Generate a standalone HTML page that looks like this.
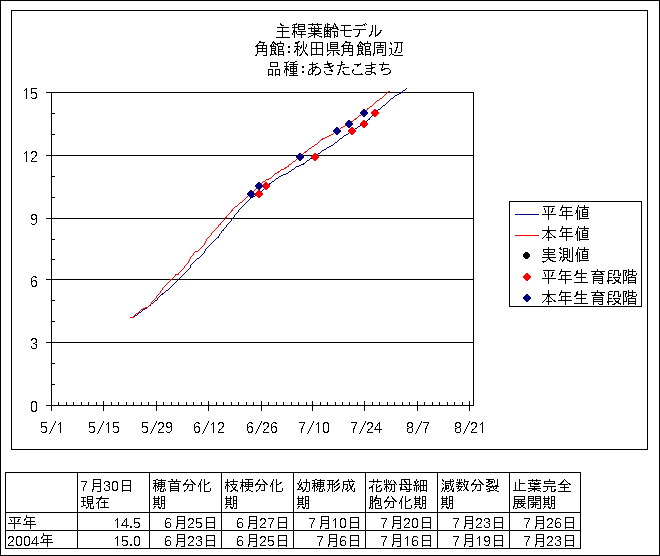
<!DOCTYPE html>
<html lang="ja"><head><meta charset="utf-8"><title>主稈葉齢モデル</title>
<style>html,body{margin:0;padding:0;background:#fff;font-family:"Liberation Sans",sans-serif}svg{display:block}</style>
</head><body>
<svg width="660" height="556" viewBox="0 0 660 556" shape-rendering="crispEdges">
<title>主稈葉齢モデル 角館:秋田県角館周辺 品種:あきたこまち</title>
<desc>凡例: 平年値, 本年値, 実測値, 平年生育段階, 本年生育段階. 軸: 0 3 6 9 12 15 / 5/1 5/15 5/29 6/12 6/26 7/10 7/24 8/7 8/21. 表: 7月30日現在 平年 14.5 2004年 15.0; 穂首分化期 6月25日 6月23日; 枝梗分化期 6月27日 6月25日; 幼穂形成期 7月10日 7月6日; 花粉母細胞分化期 7月20日 7月16日; 減数分裂期 7月23日 7月19日; 止葉完全展開期 7月26日 7月23日</desc>
<rect width="660" height="556" fill="#fff"/>
<g fill="none" stroke="#000" stroke-width="1">
<rect x="0.5" y="0.5" width="659" height="555"/>
<rect x="11.5" y="10.5" width="636" height="439"/>
<path d="M46 92.5H474"/>
<path d="M46 155.5H474"/>
<path d="M46 218.5H474"/>
<path d="M46 279.5H474"/>
<path d="M46 342.5H474"/>
<path d="M46 405.5H474"/>
<path d="M51.5 92V411"/>
<path d="M473.5 92V406"/>
<path d="M52 113.5H55"/>
<path d="M52 134.5H55"/>
<path d="M52 176.5H55"/>
<path d="M52 197.5H55"/>
<path d="M52 239.5H55"/>
<path d="M52 259.5H55"/>
<path d="M52 300.5H55"/>
<path d="M52 321.5H55"/>
<path d="M52 363.5H55"/>
<path d="M52 384.5H55"/>
<path d="M58.5 402V405"/>
<path d="M66.5 402V405"/>
<path d="M73.5 402V405"/>
<path d="M81.5 402V405"/>
<path d="M88.5 402V405"/>
<path d="M96.5 402V405"/>
<path d="M103.5 401V411"/>
<path d="M111.5 402V405"/>
<path d="M118.5 402V405"/>
<path d="M126.5 402V405"/>
<path d="M133.5 402V405"/>
<path d="M141.5 402V405"/>
<path d="M148.5 402V405"/>
<path d="M156.5 401V411"/>
<path d="M163.5 402V405"/>
<path d="M171.5 402V405"/>
<path d="M178.5 402V405"/>
<path d="M186.5 402V405"/>
<path d="M193.5 402V405"/>
<path d="M201.5 402V405"/>
<path d="M208.5 401V411"/>
<path d="M216.5 402V405"/>
<path d="M223.5 402V405"/>
<path d="M231.5 402V405"/>
<path d="M238.5 402V405"/>
<path d="M246.5 402V405"/>
<path d="M253.5 402V405"/>
<path d="M261.5 401V411"/>
<path d="M268.5 402V405"/>
<path d="M276.5 402V405"/>
<path d="M283.5 402V405"/>
<path d="M291.5 402V405"/>
<path d="M298.5 402V405"/>
<path d="M306.5 402V405"/>
<path d="M312.5 401V411"/>
<path d="M320.5 402V405"/>
<path d="M327.5 402V405"/>
<path d="M335.5 402V405"/>
<path d="M342.5 402V405"/>
<path d="M349.5 402V405"/>
<path d="M357.5 402V405"/>
<path d="M364.5 401V411"/>
<path d="M372.5 402V405"/>
<path d="M379.5 402V405"/>
<path d="M387.5 402V405"/>
<path d="M394.5 402V405"/>
<path d="M402.5 402V405"/>
<path d="M409.5 402V405"/>
<path d="M417.5 401V411"/>
<path d="M424.5 402V405"/>
<path d="M432.5 402V405"/>
<path d="M439.5 402V405"/>
<path d="M447.5 402V405"/>
<path d="M454.5 402V405"/>
<path d="M462.5 402V405"/>
<path d="M469.5 401V411"/>
</g>
<path fill="#000080" d="M406 88h1v1h-1zM405 89h1v1h-1zM403 90h2v1h-2zM402 91h1v1h-1zM400 92h2v1h-2zM399 93h2v1h-2zM397 94h2v1h-2zM395 95h2v1h-2zM394 96h1v1h-1zM393 97h1v1h-1zM391 98h2v1h-2zM390 99h1v1h-1zM389 100h1v1h-1zM388 101h1v1h-1zM387 102h1v1h-1zM386 103h1v1h-1zM385 104h1v1h-1zM383 105h2v1h-2zM382 106h1v1h-1zM381 107h1v1h-1zM380 108h1v1h-1zM378 109h2v1h-2zM377 110h1v1h-1zM376 111h1v1h-1zM375 112h1v1h-1zM374 113h1v1h-1zM373 114h1v1h-1zM372 115h1v1h-1zM371 116h1v1h-1zM370 117h1v1h-1zM369 118h1v1h-1zM368 119h2v1h-2zM367 120h1v1h-1zM366 121h1v1h-1zM365 122h1v1h-1zM364 123h1v1h-1zM362 124h2v1h-2zM360 125h2v1h-2zM358 126h2v1h-2zM357 127h1v1h-1zM355 128h2v1h-2zM354 129h1v1h-1zM352 130h2v1h-2zM351 131h2v1h-2zM349 132h2v1h-2zM348 133h1v1h-1zM346 134h2v1h-2zM344 135h2v1h-2zM343 136h1v1h-1zM342 137h1v1h-1zM340 138h2v1h-2zM339 139h1v1h-1zM338 140h1v1h-1zM337 141h1v1h-1zM335 142h2v1h-2zM334 143h1v1h-1zM333 144h1v1h-1zM331 145h2v1h-2zM329 146h2v1h-2zM327 147h2v1h-2zM326 148h1v1h-1zM324 149h2v1h-2zM322 150h2v1h-2zM321 151h1v1h-1zM320 152h1v1h-1zM318 153h2v1h-2zM317 154h1v1h-1zM316 155h1v1h-1zM315 156h1v1h-1zM313 157h2v1h-2zM310 158h3v1h-3zM309 159h1v1h-1zM307 160h2v1h-2zM306 161h1v1h-1zM305 162h1v1h-1zM303 163h2v1h-2zM301 164h3v1h-3zM299 165h2v1h-2zM296 166h3v1h-3zM295 167h1v1h-1zM294 168h1v1h-1zM292 169h2v1h-2zM291 170h1v1h-1zM289 171h2v1h-2zM288 172h1v1h-1zM286 173h2v1h-2zM283 174h3v1h-3zM281 175h2v1h-2zM279 176h2v1h-2zM278 177h1v1h-1zM276 178h2v1h-2zM275 179h1v1h-1zM274 180h1v1h-1zM272 181h2v1h-2zM271 182h1v1h-1zM269 183h2v1h-2zM268 184h2v1h-2zM267 185h1v1h-1zM266 186h1v1h-1zM265 187h1v1h-1zM264 188h1v1h-1zM263 189h1v1h-1zM262 190h1v1h-1zM261 191h1v1h-1zM260 192h1v1h-1zM259 193h1v1h-1zM257 194h3v1h-3zM255 195h2v1h-2zM253 196h2v1h-2zM251 197h2v1h-2zM250 198h1v1h-1zM249 199h1v1h-1zM248 200h1v1h-1zM247 201h1v1h-1zM246 202h1v1h-1zM245 203h1v1h-1zM244 204h1v1h-1zM243 205h1v1h-1zM242 206h1v1h-1zM241 207h1v1h-1zM240 208h1v1h-1zM239 209h1v1h-1zM238 210h1v2h-1zM237 212h1v1h-1zM236 213h1v1h-1zM235 214h1v1h-1zM234 215h1v2h-1zM233 217h1v1h-1zM232 218h1v1h-1zM231 219h1v2h-1zM230 221h1v1h-1zM229 222h1v1h-1zM228 223h1v1h-1zM227 224h1v1h-1zM226 225h1v2h-1zM225 227h1v1h-1zM224 228h1v1h-1zM223 229h1v1h-1zM222 230h2v1h-2zM221 231h1v2h-1zM220 233h1v1h-1zM219 234h1v2h-1zM218 236h1v1h-1zM217 237h2v1h-2zM216 238h1v1h-1zM215 239h1v1h-1zM214 240h1v1h-1zM213 241h1v1h-1zM212 242h1v1h-1zM211 243h1v1h-1zM210 244h1v1h-1zM209 245h1v1h-1zM208 246h1v1h-1zM207 247h1v1h-1zM206 248h1v1h-1zM205 249h1v2h-1zM204 251h1v2h-1zM203 253h1v1h-1zM202 254h1v1h-1zM201 255h1v1h-1zM200 256h1v1h-1zM199 257h1v1h-1zM197 258h2v1h-2zM196 259h1v1h-1zM195 260h1v1h-1zM194 261h1v1h-1zM193 262h1v1h-1zM192 263h1v1h-1zM191 264h1v1h-1zM190 265h1v3h-1zM189 268h1v1h-1zM188 269h1v1h-1zM187 270h1v1h-1zM186 271h1v1h-1zM185 272h1v1h-1zM184 273h1v1h-1zM183 274h1v1h-1zM182 275h1v1h-1zM181 276h1v1h-1zM180 277h1v1h-1zM179 278h1v1h-1zM178 279h1v1h-1zM177 280h1v1h-1zM176 281h1v1h-1zM175 282h1v1h-1zM174 283h1v1h-1zM173 284h1v1h-1zM172 285h1v1h-1zM171 286h1v1h-1zM170 287h1v1h-1zM169 288h1v1h-1zM168 289h1v1h-1zM166 290h2v1h-2zM165 291h1v1h-1zM164 292h1v1h-1zM162 293h2v1h-2zM161 294h2v1h-2zM160 295h1v1h-1zM159 296h1v1h-1zM158 297h1v1h-1zM157 298h1v2h-1zM155 300h2v1h-2zM154 301h1v1h-1zM153 302h1v1h-1zM151 303h2v1h-2zM150 304h1v1h-1zM149 305h2v1h-2zM148 306h1v1h-1zM147 307h1v1h-1zM145 308h2v1h-2zM143 309h2v1h-2zM142 310h1v1h-1zM141 311h1v1h-1zM139 312h2v1h-2zM138 313h1v1h-1zM137 314h1v1h-1zM135 315h2v1h-2zM133 316h2v1h-2zM132 317h1v1h-1z"/>
<path fill="#ff0000" d="M388 91h2v1h-2zM387 92h1v1h-1zM386 93h1v1h-1zM385 94h1v1h-1zM384 95h1v1h-1zM383 96h1v1h-1zM382 97h1v1h-1zM380 98h2v1h-2zM379 99h1v1h-1zM377 100h2v1h-2zM376 101h1v1h-1zM375 102h1v1h-1zM374 103h1v1h-1zM373 104h1v1h-1zM372 105h1v1h-1zM370 106h2v1h-2zM369 107h1v1h-1zM367 108h2v1h-2zM367 109h1v1h-1zM366 110h1v1h-1zM365 111h1v1h-1zM364 112h1v1h-1zM362 113h2v1h-2zM361 114h1v1h-1zM359 115h2v1h-2zM358 116h1v1h-1zM357 117h1v1h-1zM355 118h2v1h-2zM354 119h2v1h-2zM353 120h1v1h-1zM351 121h2v1h-2zM350 122h1v1h-1zM348 123h2v1h-2zM347 124h2v1h-2zM345 125h2v1h-2zM343 126h2v1h-2zM341 127h2v1h-2zM340 128h1v1h-1zM338 129h2v1h-2zM337 130h1v1h-1zM335 131h2v1h-2zM334 132h1v1h-1zM333 133h1v1h-1zM331 134h2v1h-2zM329 135h2v1h-2zM327 136h2v1h-2zM325 137h2v1h-2zM322 138h3v1h-3zM321 139h2v1h-2zM320 140h1v1h-1zM319 141h1v1h-1zM318 142h1v1h-1zM317 143h1v1h-1zM315 144h2v1h-2zM314 145h1v1h-1zM312 146h2v1h-2zM311 147h1v1h-1zM309 148h2v1h-2zM308 149h1v1h-1zM307 150h1v1h-1zM305 151h2v1h-2zM304 152h2v1h-2zM303 153h1v1h-1zM302 154h1v1h-1zM301 155h1v1h-1zM299 156h2v1h-2zM298 157h2v1h-2zM297 158h1v1h-1zM296 159h1v1h-1zM295 160h1v1h-1zM293 161h2v1h-2zM292 162h1v1h-1zM291 163h1v1h-1zM289 164h2v1h-2zM288 165h1v1h-1zM287 166h2v1h-2zM285 167h2v1h-2zM284 168h2v1h-2zM281 169h3v1h-3zM280 170h1v1h-1zM278 171h2v1h-2zM277 172h2v1h-2zM275 173h2v1h-2zM274 174h1v1h-1zM273 175h1v1h-1zM272 176h1v1h-1zM271 177h1v1h-1zM269 178h2v1h-2zM266 179h3v1h-3zM265 180h1v1h-1zM263 181h2v1h-2zM262 182h1v1h-1zM261 183h1v1h-1zM260 184h1v1h-1zM259 185h1v1h-1zM258 186h1v1h-1zM257 187h1v1h-1zM256 188h1v1h-1zM255 189h1v1h-1zM254 190h1v1h-1zM253 191h1v1h-1zM252 192h1v1h-1zM251 193h1v1h-1zM250 194h2v1h-2zM248 195h2v1h-2zM247 196h1v1h-1zM246 197h1v1h-1zM245 198h1v1h-1zM244 199h1v1h-1zM243 200h1v1h-1zM242 201h1v1h-1zM240 202h2v1h-2zM239 203h1v1h-1zM238 204h1v1h-1zM237 205h1v1h-1zM235 206h2v1h-2zM234 207h1v1h-1zM233 208h1v1h-1zM232 209h1v1h-1zM231 210h2v1h-2zM231 211h1v1h-1zM230 212h1v1h-1zM229 213h1v1h-1zM228 214h1v1h-1zM227 215h1v1h-1zM226 216h1v1h-1zM225 217h2v1h-2zM225 218h1v1h-1zM224 219h1v1h-1zM223 220h1v1h-1zM222 221h1v1h-1zM221 222h1v1h-1zM220 223h1v1h-1zM219 224h2v1h-2zM218 225h1v2h-1zM217 227h1v1h-1zM216 228h1v1h-1zM215 229h1v1h-1zM214 230h1v1h-1zM213 231h1v1h-1zM212 232h1v1h-1zM211 233h1v2h-1zM210 235h1v1h-1zM209 236h1v1h-1zM208 237h1v1h-1zM207 238h1v1h-1zM206 239h1v2h-1zM205 241h1v2h-1zM204 243h1v2h-1zM203 245h1v1h-1zM202 246h1v1h-1zM201 247h1v1h-1zM200 248h1v1h-1zM199 249h1v1h-1zM198 250h1v1h-1zM195 251h3v1h-3zM194 252h1v1h-1zM193 253h1v2h-1zM192 255h1v1h-1zM191 256h1v1h-1zM190 257h1v2h-1zM189 259h1v2h-1zM188 261h1v2h-1zM187 263h1v1h-1zM186 264h1v1h-1zM185 265h1v1h-1zM184 266h1v2h-1zM183 268h1v1h-1zM182 269h1v1h-1zM181 270h1v1h-1zM180 271h1v1h-1zM179 272h1v1h-1zM178 273h1v1h-1zM175 274h4v1h-4zM175 275h1v1h-1zM174 276h1v1h-1zM173 277h1v1h-1zM172 278h1v1h-1zM170 279h2v1h-2zM170 280h1v1h-1zM169 281h1v1h-1zM168 282h1v1h-1zM167 283h1v1h-1zM166 284h1v1h-1zM165 285h1v1h-1zM164 286h1v1h-1zM163 287h1v1h-1zM162 288h1v2h-1zM161 290h1v1h-1zM160 291h1v2h-1zM159 293h1v1h-1zM158 294h1v1h-1zM157 295h1v1h-1zM156 296h1v2h-1zM155 298h1v1h-1zM154 299h1v1h-1zM153 300h1v1h-1zM152 301h1v1h-1zM151 302h1v2h-1zM150 304h1v1h-1zM149 305h1v1h-1zM148 306h1v1h-1zM145 307h3v1h-3zM143 308h2v1h-2zM141 309h2v1h-2zM140 310h1v1h-1zM139 311h1v1h-1zM138 312h1v1h-1zM136 313h2v1h-2zM135 314h1v1h-1zM134 315h1v1h-1zM133 316h1v1h-1zM130 317h4v1h-4z"/>
<path fill="#ff0000" d="M258 190h2v1h-2zM257 191h4v1h-4zM256 192h6v1h-6zM255 193h8v1h-8zM255 194h8v1h-8zM256 195h6v1h-6zM257 196h4v1h-4zM258 197h2v1h-2z"/>
<path fill="#ff0000" d="M265 182h2v1h-2zM264 183h4v1h-4zM263 184h6v1h-6zM262 185h8v1h-8zM262 186h8v1h-8zM263 187h6v1h-6zM264 188h4v1h-4zM265 189h2v1h-2z"/>
<path fill="#ff0000" d="M314 153h2v1h-2zM313 154h4v1h-4zM312 155h6v1h-6zM311 156h8v1h-8zM311 157h8v1h-8zM312 158h6v1h-6zM313 159h4v1h-4zM314 160h2v1h-2z"/>
<path fill="#ff0000" d="M351 127h2v1h-2zM350 128h4v1h-4zM349 129h6v1h-6zM348 130h8v1h-8zM348 131h8v1h-8zM349 132h6v1h-6zM350 133h4v1h-4zM351 134h2v1h-2z"/>
<path fill="#ff0000" d="M363 120h2v1h-2zM362 121h4v1h-4zM361 122h6v1h-6zM360 123h8v1h-8zM360 124h8v1h-8zM361 125h6v1h-6zM362 126h4v1h-4zM363 127h2v1h-2z"/>
<path fill="#ff0000" d="M374 109h2v1h-2zM373 110h4v1h-4zM372 111h6v1h-6zM371 112h8v1h-8zM371 113h8v1h-8zM372 114h6v1h-6zM373 115h4v1h-4zM374 116h2v1h-2z"/>
<path fill="#000080" d="M250 190h2v1h-2zM249 191h4v1h-4zM248 192h6v1h-6zM247 193h8v1h-8zM247 194h8v1h-8zM248 195h6v1h-6zM249 196h4v1h-4zM250 197h2v1h-2z"/>
<path fill="#000080" d="M258 182h2v1h-2zM257 183h4v1h-4zM256 184h6v1h-6zM255 185h8v1h-8zM255 186h8v1h-8zM256 187h6v1h-6zM257 188h4v1h-4zM258 189h2v1h-2z"/>
<path fill="#000080" d="M299 153h2v1h-2zM298 154h4v1h-4zM297 155h6v1h-6zM296 156h8v1h-8zM296 157h8v1h-8zM297 158h6v1h-6zM298 159h4v1h-4zM299 160h2v1h-2z"/>
<path fill="#000080" d="M336 127h2v1h-2zM335 128h4v1h-4zM334 129h6v1h-6zM333 130h8v1h-8zM333 131h8v1h-8zM334 132h6v1h-6zM335 133h4v1h-4zM336 134h2v1h-2z"/>
<path fill="#000080" d="M348 120h2v1h-2zM347 121h4v1h-4zM346 122h6v1h-6zM345 123h8v1h-8zM345 124h8v1h-8zM346 125h6v1h-6zM347 126h4v1h-4zM348 127h2v1h-2z"/>
<path fill="#000080" d="M363 109h2v1h-2zM362 110h4v1h-4zM361 111h6v1h-6zM360 112h8v1h-8zM360 113h8v1h-8zM361 114h6v1h-6zM362 115h4v1h-4zM363 116h2v1h-2z"/>
<rect x="509.5" y="201.5" width="132" height="105" fill="#fff" stroke="#000"/>
<path d="M515 214.5H539" stroke="#000080"/>
<path d="M515 235.5H539" stroke="#ff0000"/>
<path fill="#000" d="M525 252h3v1h-3zM524 253h5v1h-5zM523 254h7v1h-7zM523 255h7v1h-7zM523 256h7v1h-7zM524 257h5v1h-5zM525 258h3v1h-3z"/>
<path fill="#ff0000" d="M526 273h2v1h-2zM525 274h4v1h-4zM524 275h6v1h-6zM523 276h8v1h-8zM523 277h8v1h-8zM524 278h6v1h-6zM525 279h4v1h-4zM526 280h2v1h-2z"/>
<path fill="#000080" d="M526 294h2v1h-2zM525 295h4v1h-4zM524 296h6v1h-6zM523 297h8v1h-8zM523 298h8v1h-8zM524 299h6v1h-6zM525 300h4v1h-4zM526 301h2v1h-2z"/>
<g fill="none" stroke="#000" stroke-width="1">
<rect x="5.5" y="472.5" width="575" height="76"/>
<path d="M77.5 472V549"/>
<path d="M149.5 472V549"/>
<path d="M221.5 472V549"/>
<path d="M293.5 472V549"/>
<path d="M365.5 472V549"/>
<path d="M437.5 472V549"/>
<path d="M509.5 472V549"/>
<path d="M5 512.5H581"/>
<path d="M5 530.5H581"/>
</g>
<path fill="#000" d="M334 23h1v1h-1zM317 23h1v1h-1zM327 23h1v1h-1zM365 23h1v1h-1zM312 23h1v1h-1zM296 23h1v1h-1zM280 23h1v1h-1zM293 24h4v1h-4zM308 24h14v1h-14zM298 24h7v1h-7zM366 24h1v1h-1zM280 24h2v1h-2zM334 24h2v1h-2zM363 24h2v1h-2zM327 24h3v1h-3zM292 25h1v1h-1zM335 25h1v1h-1zM341 25h10v1h-10zM317 25h1v1h-1zM355 25h8v1h-8zM298 25h1v1h-1zM304 25h1v1h-1zM312 25h1v1h-1zM364 25h1v1h-1zM281 25h3v1h-3zM325 24h1v3h-1zM333 25h1v2h-1zM327 25h1v2h-1zM294 25h1v2h-1zM298 26h7v1h-7zM335 26h2v1h-2zM314 26h1v2h-1zM318 26h1v2h-1zM336 27h2v1h-2zM292 27h7v1h-7zM324 27h10v1h-10zM311 27h1v1h-1zM277 27h12v1h-12zM304 27h1v2h-1zM308 28h14v1h-14zM324 28h1v1h-1zM332 28h6v1h-6zM330 28h1v1h-1zM298 28h1v1h-1zM344 26h1v4h-1zM327 28h1v2h-1zM294 28h1v2h-1zM329 29h3v1h-3zM337 29h2v1h-2zM314 29h1v1h-1zM298 29h7v1h-7zM353 29h13v1h-13zM324 29h2v1h-2zM318 29h1v1h-1zM372 25h1v6h-1zM282 28h1v3h-1zM311 29h1v2h-1zM314 30h5v1h-5zM324 30h1v1h-1zM330 30h1v1h-1zM293 30h2v1h-2zM380 30h2v1h-2zM326 30h3v1h-3zM340 30h12v1h-12zM293 31h4v1h-4zM298 31h8v1h-8zM324 31h7v1h-7zM332 31h6v1h-6zM277 31h12v1h-12zM311 31h10v1h-10zM380 31h1v1h-1zM371 31h2v1h-2zM359 30h1v3h-1zM314 32h1v1h-1zM327 32h1v1h-1zM293 32h2v1h-2zM379 32h2v1h-2zM324 32h1v2h-1zM330 32h1v2h-1zM301 32h1v2h-1zM371 32h1v2h-1zM296 32h1v2h-1zM308 33h14v1h-14zM378 33h2v1h-2zM358 33h2v1h-2zM326 33h3v1h-3zM375 25h1v10h-1zM334 32h1v3h-1zM292 33h1v2h-1zM297 34h9v1h-9zM329 34h2v1h-2zM377 34h2v1h-2zM313 34h4v1h-4zM358 34h1v1h-1zM370 34h2v1h-2zM324 34h2v1h-2zM344 31h1v5h-1zM337 32h1v4h-1zM327 34h1v2h-1zM311 35h2v1h-2zM324 35h1v1h-1zM330 35h1v1h-1zM357 35h2v1h-2zM334 35h2v1h-2zM375 35h3v1h-3zM317 35h2v1h-2zM369 35h2v1h-2zM282 32h1v5h-1zM345 36h6v1h-6zM319 36h3v1h-3zM336 36h2v1h-2zM324 36h7v1h-7zM369 36h1v1h-1zM375 36h1v1h-1zM309 36h2v1h-2zM355 36h3v1h-3zM294 33h1v5h-1zM314 35h1v3h-1zM301 35h1v3h-1zM334 36h1v2h-1zM324 37h1v1h-1zM276 37h14v1h-14zM308 37h1v1h-1zM321 37h1v1h-1zM330 37h1v1h-1zM360 41h1v1h-1zM259 41h2v1h-2zM345 41h2v1h-2zM273 41h1v1h-1zM298 41h2v1h-2zM367 41h1v2h-1zM280 41h1v2h-1zM345 42h6v1h-6zM330 42h8v1h-8zM295 42h4v1h-4zM311 42h12v1h-12zM394 42h9v1h-9zM259 42h6v1h-6zM374 42h12v1h-12zM359 42h3v1h-3zM272 42h3v1h-3zM390 42h1v1h-1zM390 43h2v1h-2zM295 43h3v1h-3zM344 43h1v1h-1zM330 43h1v1h-1zM361 43h2v1h-2zM258 43h1v1h-1zM364 43h7v1h-7zM359 43h1v1h-1zM277 43h7v1h-7zM272 43h1v1h-1zM337 43h1v1h-1zM274 43h2v1h-2zM380 43h1v2h-1zM349 43h1v2h-1zM263 43h1v2h-1zM330 44h8v1h-8zM343 44h1v1h-1zM257 44h1v1h-1zM358 44h1v1h-1zM271 44h1v1h-1zM391 44h1v1h-1zM362 44h3v1h-3zM275 44h3v1h-3zM370 44h1v2h-1zM283 44h1v2h-1zM297 44h1v2h-1zM360 44h1v2h-1zM273 44h1v2h-1zM330 45h1v1h-1zM377 45h7v1h-7zM342 45h11v1h-11zM364 45h1v1h-1zM277 45h1v1h-1zM337 45h1v1h-1zM256 45h11v1h-11zM357 45h2v1h-2zM270 45h2v1h-2zM397 43h1v4h-1zM306 44h1v3h-1zM301 45h1v2h-1zM330 46h8v1h-8zM341 46h3v1h-3zM380 46h1v1h-1zM255 46h3v1h-3zM357 46h6v1h-6zM365 46h5v1h-5zM270 46h6v1h-6zM278 46h5v1h-5zM294 46h6v1h-6zM311 43h1v5h-1zM316 43h1v5h-1zM322 43h1v5h-1zM352 46h1v2h-1zM348 46h1v2h-1zM266 46h1v2h-1zM262 46h1v2h-1zM288 46h2v2h-2zM297 47h1v1h-1zM376 47h8v1h-8zM343 47h1v1h-1zM257 47h1v1h-1zM330 47h1v1h-1zM362 47h1v1h-1zM275 47h1v1h-1zM396 47h2v1h-2zM358 47h1v1h-1zM271 47h1v1h-1zM300 47h2v1h-2zM337 47h1v1h-1zM369 47h1v2h-1zM282 47h1v2h-1zM365 47h1v2h-1zM278 47h1v2h-1zM305 47h1v2h-1zM330 48h8v1h-8zM358 48h5v1h-5zM271 48h5v1h-5zM343 48h10v1h-10zM257 48h10v1h-10zM311 48h12v1h-12zM389 48h3v1h-3zM296 48h2v1h-2zM300 48h1v1h-1zM303 41h1v9h-1zM327 43h1v7h-1zM396 48h1v2h-1zM296 49h3v1h-3zM362 49h1v1h-1zM275 49h1v1h-1zM358 49h1v1h-1zM271 49h1v1h-1zM365 49h5v1h-5zM278 49h5v1h-5zM377 49h6v1h-6zM352 49h1v2h-1zM348 49h1v2h-1zM343 49h1v2h-1zM266 49h1v2h-1zM257 49h1v2h-1zM262 49h1v2h-1zM303 50h2v1h-2zM358 50h5v1h-5zM271 50h5v1h-5zM395 50h2v1h-2zM299 50h1v1h-1zM327 50h13v1h-13zM295 50h1v1h-1zM365 50h1v1h-1zM278 50h1v1h-1zM401 43h1v9h-1zM377 50h1v2h-1zM382 50h1v2h-1zM361 51h1v1h-1zM294 51h2v1h-2zM274 51h1v1h-1zM365 51h6v1h-6zM278 51h6v1h-6zM343 51h10v1h-10zM257 51h10v1h-10zM395 51h1v1h-1zM327 51h1v1h-1zM304 51h1v1h-1zM374 43h1v10h-1zM302 51h1v2h-1zM288 51h2v2h-2zM336 52h2v1h-2zM330 52h1v1h-1zM294 52h1v1h-1zM398 52h3v1h-3zM394 52h2v1h-2zM377 52h6v1h-6zM305 52h1v1h-1zM311 49h1v5h-1zM316 49h1v5h-1zM391 49h1v5h-1zM322 49h1v5h-1zM358 51h1v3h-1zM271 51h1v3h-1zM370 52h1v2h-1zM283 52h1v2h-1zM343 52h1v2h-1zM257 52h1v2h-1zM361 52h2v2h-2zM274 52h2v2h-2zM365 52h1v2h-1zM278 52h1v2h-1zM301 53h1v1h-1zM329 53h1v1h-1zM373 53h2v1h-2zM377 53h1v1h-1zM337 53h2v1h-2zM305 53h2v1h-2zM385 43h1v12h-1zM352 52h1v3h-1zM266 52h1v3h-1zM275 54h2v1h-2zM256 54h1v1h-1zM357 54h4v1h-4zM270 54h4v1h-4zM365 54h6v1h-6zM278 54h6v1h-6zM327 54h2v1h-2zM390 54h1v1h-1zM392 54h2v1h-2zM311 54h12v1h-12zM300 54h2v1h-2zM306 54h2v1h-2zM338 54h2v1h-2zM342 54h1v1h-1zM362 54h2v1h-2zM297 50h1v6h-1zM333 51h1v5h-1zM373 54h1v2h-1zM370 55h1v1h-1zM283 55h1v1h-1zM311 55h1v1h-1zM299 55h2v1h-2zM389 55h1v1h-1zM357 55h1v1h-1zM270 55h1v1h-1zM307 55h1v1h-1zM341 55h2v1h-2zM349 55h4v1h-4zM394 55h9v1h-9zM327 55h1v1h-1zM382 55h4v1h-4zM322 55h1v1h-1zM255 55h2v1h-2zM263 55h4v1h-4zM365 55h1v1h-1zM278 55h1v1h-1zM341 61h1v1h-1zM295 61h2v1h-2zM288 61h1v1h-1zM327 61h1v2h-1zM341 62h2v1h-2zM284 62h4v1h-4zM290 62h5v1h-5zM270 62h8v1h-8zM371 62h1v2h-1zM383 62h1v2h-1zM312 62h1v2h-1zM341 63h1v1h-1zM360 63h1v1h-1zM327 63h5v1h-5zM316 63h2v1h-2zM293 63h1v1h-1zM354 64h7v1h-7zM371 64h5v1h-5zM309 64h7v1h-7zM379 64h10v1h-10zM324 64h6v1h-6zM289 64h9v1h-9zM341 64h4v1h-4zM277 63h1v3h-1zM286 63h1v3h-1zM270 63h1v3h-1zM365 65h7v1h-7zM357 65h2v1h-2zM332 65h2v1h-2zM328 65h2v1h-2zM337 65h5v1h-5zM293 65h1v1h-1zM312 65h1v2h-1zM284 66h5v1h-5zM290 66h7v1h-7zM371 66h1v1h-1zM329 66h4v1h-4zM315 66h2v1h-2zM270 66h8v1h-8zM357 66h1v1h-1zM382 65h1v3h-1zM302 66h2v2h-2zM286 67h1v1h-1zM290 67h1v1h-1zM324 67h7v1h-7zM371 67h4v1h-4zM343 67h6v1h-6zM312 67h7v1h-7zM296 67h1v1h-1zM293 67h1v1h-1zM340 66h1v3h-1zM343 68h1v1h-1zM311 68h2v1h-2zM315 68h1v1h-1zM290 68h7v1h-7zM330 68h1v1h-1zM384 68h5v1h-5zM366 68h7v1h-7zM381 68h1v1h-1zM319 68h1v1h-1zM285 68h3v1h-3zM309 69h2v1h-2zM331 69h1v1h-1zM353 69h1v1h-1zM275 69h5v1h-5zM314 69h1v1h-1zM339 69h2v1h-2zM381 69h4v1h-4zM268 69h5v1h-5zM285 69h4v1h-4zM312 69h1v1h-1zM389 69h1v1h-1zM290 69h1v2h-1zM371 69h1v2h-1zM296 69h1v2h-1zM293 69h1v2h-1zM381 70h2v1h-2zM329 70h4v1h-4zM288 70h1v1h-1zM309 70h1v1h-1zM352 70h2v1h-2zM312 70h3v1h-3zM320 69h1v3h-1zM339 70h1v2h-1zM390 70h1v2h-1zM290 71h7v1h-7zM342 71h2v1h-2zM312 71h2v1h-2zM331 71h2v1h-2zM366 71h6v1h-6zM284 70h1v3h-1zM302 71h2v2h-2zM324 71h1v2h-1zM352 71h1v2h-1zM343 72h1v1h-1zM319 72h2v1h-2zM338 72h2v1h-2zM371 72h4v1h-4zM389 72h2v1h-2zM312 72h1v1h-1zM293 72h1v1h-1zM279 70h1v4h-1zM275 70h1v4h-1zM268 70h1v4h-1zM272 70h1v4h-1zM308 71h1v3h-1zM365 72h1v2h-1zM361 73h1v1h-1zM353 73h1v1h-1zM311 73h2v1h-2zM290 73h7v1h-7zM374 73h2v1h-2zM371 73h1v1h-1zM338 73h1v1h-1zM343 73h2v1h-2zM318 73h2v1h-2zM388 73h2v1h-2zM325 73h1v1h-1zM337 74h2v1h-2zM315 74h4v1h-4zM366 74h5v1h-5zM275 74h5v1h-5zM375 74h1v1h-1zM383 74h5v1h-5zM308 74h3v1h-3zM344 74h6v1h-6zM354 74h9v1h-9zM268 74h5v1h-5zM326 74h6v1h-6zM312 74h1v1h-1zM293 74h1v1h-1zM286 70h1v6h-1zM279 75h1v1h-1zM272 75h1v1h-1zM315 75h1v1h-1zM275 75h1v1h-1zM289 75h9v1h-9zM268 75h1v1h-1zM26 88h1v1h-1zM31 88h6v1h-6zM25 89h2v1h-2zM24 90h1v1h-1zM31 89h1v3h-1zM31 92h5v1h-5zM35 93h2v1h-2zM31 93h1v1h-1zM36 94h1v3h-1zM35 97h2v1h-2zM31 97h1v1h-1zM26 90h1v9h-1zM32 98h4v1h-4zM26 151h1v1h-1zM32 151h4v1h-4zM31 152h2v1h-2zM35 152h2v1h-2zM25 152h2v1h-2zM24 153h1v1h-1zM31 153h1v1h-1zM36 153h1v2h-1zM35 155h2v1h-2zM35 156h1v1h-1zM34 157h1v1h-1zM32 158h2v1h-2zM32 159h1v1h-1zM31 160h1v1h-1zM26 153h1v9h-1zM31 161h6v1h-6zM584 205h1v2h-1zM578 205h1v2h-1zM562 205h1v2h-1zM543 206h12v1h-12zM561 207h11v1h-11zM579 207h10v1h-10zM584 208h1v1h-1zM552 208h2v1h-2zM561 208h1v1h-1zM577 207h1v3h-1zM544 208h1v2h-1zM582 209h6v1h-6zM560 209h2v1h-2zM566 208h1v3h-1zM552 209h1v2h-1zM560 210h1v1h-1zM587 210h1v2h-1zM582 210h1v2h-1zM551 211h2v1h-2zM562 211h10v1h-10zM576 210h2v3h-2zM545 210h1v3h-1zM551 212h1v1h-1zM582 212h6v1h-6zM548 207h1v7h-1zM575 213h1v1h-1zM587 213h1v1h-1zM582 213h1v1h-1zM566 212h1v3h-1zM562 212h1v3h-1zM542 214h14v1h-14zM582 214h6v1h-6zM32 214h4v1h-4zM31 215h2v1h-2zM587 215h1v1h-1zM35 215h2v1h-2zM559 215h14v1h-14zM582 215h1v1h-1zM582 216h6v1h-6zM579 210h1v8h-1zM31 216h1v2h-1zM36 216h1v2h-1zM579 218h10v1h-10zM31 218h2v1h-2zM35 218h2v1h-2zM577 213h1v7h-1zM548 215h1v5h-1zM566 216h1v4h-1zM579 219h1v1h-1zM32 219h3v1h-3zM36 219h1v4h-1zM35 223h1v1h-1zM31 223h1v1h-1zM32 224h3v1h-3zM584 226h1v2h-1zM578 226h1v2h-1zM562 226h1v2h-1zM561 228h11v1h-11zM579 228h10v1h-10zM548 226h1v4h-1zM584 229h1v1h-1zM561 229h1v1h-1zM577 228h1v3h-1zM542 230h14v1h-14zM582 230h6v1h-6zM560 230h2v1h-2zM566 229h1v3h-1zM560 231h1v1h-1zM547 231h3v2h-3zM587 231h1v2h-1zM582 231h1v2h-1zM562 232h10v1h-10zM576 231h2v3h-2zM550 233h1v1h-1zM582 233h6v1h-6zM546 233h1v2h-1zM575 234h1v1h-1zM551 234h1v1h-1zM587 234h1v1h-1zM582 234h1v1h-1zM566 233h1v3h-1zM562 233h1v3h-1zM582 235h6v1h-6zM552 235h1v1h-1zM545 235h1v1h-1zM548 233h1v4h-1zM553 236h2v1h-2zM587 236h1v1h-1zM544 236h1v1h-1zM559 236h14v1h-14zM582 236h1v1h-1zM543 237h1v1h-1zM554 237h2v1h-2zM582 237h6v1h-6zM546 237h6v1h-6zM579 231h1v8h-1zM542 238h1v1h-1zM579 239h10v1h-10zM577 234h1v7h-1zM566 237h1v4h-1zM548 238h1v3h-1zM579 240h1v1h-1zM560 247h1v1h-1zM584 247h1v2h-1zM578 247h1v2h-1zM548 247h1v2h-1zM563 248h5v1h-5zM559 248h2v1h-2zM579 249h10v1h-10zM560 249h2v1h-2zM543 249h12v1h-12zM567 249h1v2h-1zM563 249h1v2h-1zM584 250h1v1h-1zM577 249h1v3h-1zM543 250h1v2h-1zM554 250h1v2h-1zM548 250h1v2h-1zM563 251h5v1h-5zM582 251h6v1h-6zM559 252h2v1h-2zM544 252h10v1h-10zM587 252h1v2h-1zM567 252h1v2h-1zM563 252h1v2h-1zM582 252h1v2h-1zM560 253h2v1h-2zM548 253h1v1h-1zM576 252h2v3h-2zM563 254h5v1h-5zM582 254h6v1h-6zM543 254h12v1h-12zM575 255h1v1h-1zM587 255h1v1h-1zM582 255h1v1h-1zM563 255h1v2h-1zM567 255h1v2h-1zM548 255h1v2h-1zM582 256h6v1h-6zM561 256h1v1h-1zM569 249h1v9h-1zM542 257h14v1h-14zM563 257h5v1h-5zM587 257h1v1h-1zM560 257h2v1h-2zM582 257h1v1h-1zM566 258h1v1h-1zM582 258h6v1h-6zM564 258h1v1h-1zM548 258h2v1h-2zM579 252h1v8h-1zM560 258h1v2h-1zM563 259h2v1h-2zM567 259h1v1h-1zM547 259h1v1h-1zM549 259h2v1h-2zM572 247h1v14h-1zM562 260h2v1h-2zM567 260h3v1h-3zM559 260h1v1h-1zM579 260h10v1h-10zM546 260h1v1h-1zM550 260h3v1h-3zM577 255h1v7h-1zM579 261h1v1h-1zM562 261h1v1h-1zM569 261h4v1h-4zM542 261h4v1h-4zM552 261h4v1h-4zM543 262h1v1h-1zM597 269h1v2h-1zM632 269h1v2h-1zM561 269h1v2h-1zM628 269h1v2h-1zM623 270h4v1h-4zM577 270h1v1h-1zM609 270h4v1h-4zM543 270h12v1h-12zM614 270h5v1h-5zM626 271h1v1h-1zM591 271h14v1h-14zM628 271h8v1h-8zM560 271h11v1h-11zM581 269h1v4h-1zM576 271h2v2h-2zM608 271h1v2h-1zM552 272h2v1h-2zM600 272h2v1h-2zM625 272h2v1h-2zM560 272h1v1h-1zM595 272h1v1h-1zM614 271h1v3h-1zM632 272h1v2h-1zM628 272h1v2h-1zM544 272h1v2h-1zM608 273h4v1h-4zM576 273h11v1h-11zM559 273h2v1h-2zM601 273h2v1h-2zM594 273h2v1h-2zM618 271h1v4h-1zM565 272h1v3h-1zM620 273h1v2h-1zM636 273h1v2h-1zM552 273h1v2h-1zM559 274h1v1h-1zM592 274h12v1h-12zM628 274h5v1h-5zM613 274h2v1h-2zM575 274h2v1h-2zM625 273h1v3h-1zM551 275h2v1h-2zM613 275h1v1h-1zM574 275h2v1h-2zM627 275h2v1h-2zM632 275h4v1h-4zM561 275h10v1h-10zM618 275h3v1h-3zM581 274h1v3h-1zM545 274h1v3h-1zM608 274h1v3h-1zM33 276h3v1h-3zM551 276h1v1h-1zM593 276h10v1h-10zM631 276h1v1h-1zM548 271h1v7h-1zM576 277h10v1h-10zM613 277h7v1h-7zM32 277h1v1h-1zM593 277h1v1h-1zM602 277h1v1h-1zM628 277h8v1h-8zM35 277h2v1h-2zM608 277h4v1h-4zM565 276h1v3h-1zM561 276h1v3h-1zM542 278h14v1h-14zM593 278h10v1h-10zM619 278h1v1h-1zM614 278h1v1h-1zM623 271h1v9h-1zM626 276h1v4h-1zM635 278h1v2h-1zM628 278h1v2h-1zM608 278h1v2h-1zM558 279h14v1h-14zM593 279h1v1h-1zM602 279h1v1h-1zM618 279h1v1h-1zM615 279h1v1h-1zM31 278h1v3h-1zM33 280h3v1h-3zM615 280h4v1h-4zM623 280h4v1h-4zM628 280h8v1h-8zM593 280h10v1h-10zM607 280h6v1h-6zM581 278h1v4h-1zM607 281h2v1h-2zM635 281h1v1h-1zM31 281h2v1h-2zM628 281h1v1h-1zM35 281h2v1h-2zM616 281h3v1h-3zM602 281h1v2h-1zM598 282h1v1h-1zM628 282h8v1h-8zM614 282h2v1h-2zM574 282h14v1h-14zM618 282h3v1h-3zM548 279h1v5h-1zM565 280h1v4h-1zM623 281h1v3h-1zM593 281h1v3h-1zM608 282h1v2h-1zM612 283h3v1h-3zM620 283h1v1h-1zM635 283h1v1h-1zM599 283h4v1h-4zM628 283h1v1h-1zM31 282h1v3h-1zM36 282h1v3h-1zM35 285h2v1h-2zM32 285h1v1h-1zM32 286h4v1h-4zM597 290h1v2h-1zM632 290h1v2h-1zM561 290h1v2h-1zM628 290h1v2h-1zM623 291h4v1h-4zM577 291h1v1h-1zM609 291h4v1h-4zM614 291h5v1h-5zM626 292h1v1h-1zM591 292h14v1h-14zM628 292h8v1h-8zM560 292h11v1h-11zM581 290h1v4h-1zM548 290h1v4h-1zM576 292h2v2h-2zM608 292h1v2h-1zM625 293h2v1h-2zM600 293h2v1h-2zM560 293h1v1h-1zM595 293h1v1h-1zM614 292h1v3h-1zM632 293h1v2h-1zM628 293h1v2h-1zM542 294h14v1h-14zM608 294h4v1h-4zM576 294h11v1h-11zM559 294h2v1h-2zM601 294h2v1h-2zM594 294h2v1h-2zM618 292h1v4h-1zM565 293h1v3h-1zM620 294h1v2h-1zM636 294h1v2h-1zM559 295h1v1h-1zM592 295h12v1h-12zM628 295h5v1h-5zM575 295h2v1h-2zM613 295h2v1h-2zM625 294h1v3h-1zM547 295h3v2h-3zM613 296h1v1h-1zM574 296h2v1h-2zM627 296h2v1h-2zM632 296h4v1h-4zM561 296h10v1h-10zM618 296h3v1h-3zM581 295h1v3h-1zM608 295h1v3h-1zM550 297h1v1h-1zM593 297h10v1h-10zM631 297h1v1h-1zM546 297h1v2h-1zM576 298h10v1h-10zM613 298h7v1h-7zM551 298h1v1h-1zM593 298h1v1h-1zM602 298h1v1h-1zM628 298h8v1h-8zM608 298h4v1h-4zM565 297h1v3h-1zM561 297h1v3h-1zM552 299h1v1h-1zM545 299h1v1h-1zM593 299h10v1h-10zM619 299h1v1h-1zM614 299h1v1h-1zM623 292h1v9h-1zM626 297h1v4h-1zM548 297h1v4h-1zM635 299h1v2h-1zM628 299h1v2h-1zM608 299h1v2h-1zM553 300h2v1h-2zM558 300h14v1h-14zM593 300h1v1h-1zM602 300h1v1h-1zM618 300h1v1h-1zM615 300h1v1h-1zM544 300h1v1h-1zM543 301h1v1h-1zM554 301h2v1h-2zM615 301h4v1h-4zM623 301h4v1h-4zM628 301h8v1h-8zM593 301h10v1h-10zM546 301h6v1h-6zM607 301h6v1h-6zM581 299h1v4h-1zM607 302h2v1h-2zM635 302h1v1h-1zM542 302h1v1h-1zM628 302h1v1h-1zM616 302h3v1h-3zM602 302h1v2h-1zM598 303h1v1h-1zM628 303h8v1h-8zM614 303h2v1h-2zM574 303h14v1h-14zM618 303h3v1h-3zM565 301h1v4h-1zM623 302h1v3h-1zM593 302h1v3h-1zM548 302h1v3h-1zM608 303h1v2h-1zM612 304h3v1h-3zM620 304h1v1h-1zM635 304h1v1h-1zM599 304h4v1h-4zM628 304h1v1h-1zM32 338h4v1h-4zM31 339h2v1h-2zM35 339h2v1h-2zM31 340h1v1h-1zM36 340h1v2h-1zM35 342h2v1h-2zM33 343h2v1h-2zM35 344h2v1h-2zM36 345h1v3h-1zM31 346h1v2h-1zM32 348h4v1h-4zM32 401h4v1h-4zM31 402h2v1h-2zM35 402h2v1h-2zM36 403h1v7h-1zM31 403h1v7h-1zM31 410h2v1h-2zM35 410h2v1h-2zM32 411h4v1h-4zM208 421h1v2h-1zM55 421h1v2h-1zM469 421h1v2h-1zM103 421h1v2h-1zM313 421h1v2h-1zM156 421h1v2h-1zM365 421h1v2h-1zM261 421h1v2h-1zM421 421h1v2h-1zM379 422h1v1h-1zM249 422h3v1h-3zM108 422h1v1h-1zM219 422h4v1h-4zM324 422h4v1h-4zM159 422h4v1h-4zM273 422h3v1h-3zM89 422h6v1h-6zM351 422h6v1h-6zM482 422h1v1h-1zM408 422h4v1h-4zM472 422h4v1h-4zM60 422h1v1h-1zM113 422h6v1h-6zM196 422h3v1h-3zM456 422h4v1h-4zM368 422h4v1h-4zM41 422h6v1h-6zM318 422h1v1h-1zM142 422h6v1h-6zM167 422h4v1h-4zM264 422h4v1h-4zM299 422h6v1h-6zM213 422h1v1h-1zM423 422h6v1h-6zM275 423h2v1h-2zM59 423h2v1h-2zM367 423h2v1h-2zM459 423h2v1h-2zM170 423h2v1h-2zM317 423h2v1h-2zM212 423h2v1h-2zM198 423h2v1h-2zM327 423h2v1h-2zM166 423h2v1h-2zM455 423h2v1h-2zM162 423h2v1h-2zM267 423h2v1h-2zM323 423h2v1h-2zM107 423h2v1h-2zM263 423h2v1h-2zM222 423h2v1h-2zM248 423h1v1h-1zM378 423h2v1h-2zM218 423h2v1h-2zM411 423h2v1h-2zM158 423h2v1h-2zM304 423h1v1h-1zM475 423h2v1h-2zM428 423h1v1h-1zM407 423h2v1h-2zM471 423h2v1h-2zM272 423h1v1h-1zM481 423h2v1h-2zM251 423h2v1h-2zM195 423h1v1h-1zM356 423h1v1h-1zM371 423h2v1h-2zM260 423h1v2h-1zM155 423h1v2h-1zM54 423h1v2h-1zM207 423h1v2h-1zM312 423h1v2h-1zM468 423h1v2h-1zM102 423h1v2h-1zM364 423h1v2h-1zM420 423h1v2h-1zM58 424h1v1h-1zM471 424h1v1h-1zM480 424h1v1h-1zM316 424h1v1h-1zM211 424h1v1h-1zM367 424h1v1h-1zM106 424h1v1h-1zM263 424h1v1h-1zM218 424h1v1h-1zM158 424h1v1h-1zM113 423h1v3h-1zM41 423h1v3h-1zM142 423h1v3h-1zM89 423h1v3h-1zM163 424h1v2h-1zM407 424h1v2h-1zM412 424h1v2h-1zM476 424h1v2h-1zM427 424h1v2h-1zM303 424h1v2h-1zM377 424h1v2h-1zM372 424h1v2h-1zM455 424h1v2h-1zM166 424h1v2h-1zM268 424h1v2h-1zM171 424h1v2h-1zM460 424h1v2h-1zM355 424h1v2h-1zM223 424h1v2h-1zM247 424h1v3h-1zM271 424h1v3h-1zM194 424h1v3h-1zM154 425h1v2h-1zM311 425h1v2h-1zM467 425h1v2h-1zM206 425h1v2h-1zM101 425h1v2h-1zM363 425h1v2h-1zM419 425h1v2h-1zM259 425h1v2h-1zM53 425h1v2h-1zM249 426h3v1h-3zM41 426h5v1h-5zM142 426h5v1h-5zM273 426h3v1h-3zM459 426h2v1h-2zM170 426h2v1h-2zM455 426h2v1h-2zM166 426h2v1h-2zM162 426h2v1h-2zM267 426h2v1h-2zM222 426h2v1h-2zM376 426h1v1h-1zM89 426h5v1h-5zM411 426h2v1h-2zM196 426h3v1h-3zM475 426h2v1h-2zM407 426h2v1h-2zM113 426h5v1h-5zM371 426h2v1h-2zM302 426h1v2h-1zM426 426h1v2h-1zM354 426h1v2h-1zM146 427h2v1h-2zM275 427h2v1h-2zM475 427h1v1h-1zM271 427h2v1h-2zM167 427h3v1h-3zM113 427h1v1h-1zM198 427h2v1h-2zM93 427h2v1h-2zM457 427h3v1h-3zM41 427h1v1h-1zM371 427h1v1h-1zM194 427h2v1h-2zM142 427h1v1h-1zM117 427h2v1h-2zM267 427h1v1h-1zM162 427h1v1h-1zM222 427h1v1h-1zM89 427h1v1h-1zM251 427h2v1h-2zM45 427h2v1h-2zM247 427h2v1h-2zM409 427h3v1h-3zM379 424h1v5h-1zM375 427h1v2h-1zM310 427h1v2h-1zM100 427h1v2h-1zM205 427h1v2h-1zM362 427h1v2h-1zM418 427h1v2h-1zM258 427h1v2h-1zM52 427h1v2h-1zM153 427h1v2h-1zM466 427h1v2h-1zM370 428h1v1h-1zM455 428h2v1h-2zM266 428h1v1h-1zM161 428h1v1h-1zM221 428h1v1h-1zM425 428h2v1h-2zM474 428h1v1h-1zM301 428h2v1h-2zM407 428h2v1h-2zM353 428h2v1h-2zM368 429h2v1h-2zM264 429h2v1h-2zM374 429h8v1h-8zM219 429h2v1h-2zM159 429h2v1h-2zM472 429h2v1h-2zM323 424h1v7h-1zM328 424h1v7h-1zM171 427h1v4h-1zM118 428h1v3h-1zM252 428h1v3h-1zM247 428h1v3h-1zM147 428h1v3h-1zM271 428h1v3h-1zM46 428h1v3h-1zM276 428h1v3h-1zM194 428h1v3h-1zM199 428h1v3h-1zM94 428h1v3h-1zM361 429h1v2h-1zM99 429h1v2h-1zM417 429h1v2h-1zM257 429h1v2h-1zM51 429h1v2h-1zM152 429h1v2h-1zM465 429h1v2h-1zM309 429h1v2h-1zM204 429h1v2h-1zM219 430h1v1h-1zM159 430h1v1h-1zM472 430h1v1h-1zM368 430h1v1h-1zM264 430h1v1h-1zM412 428h1v4h-1zM460 428h1v4h-1zM407 429h1v3h-1zM455 429h1v3h-1zM146 431h2v1h-2zM275 431h2v1h-2zM471 431h1v1h-1zM113 431h1v1h-1zM198 431h2v1h-2zM327 431h2v1h-2zM93 431h2v1h-2zM41 431h1v1h-1zM323 431h2v1h-2zM142 431h1v1h-1zM248 431h1v1h-1zM367 431h1v1h-1zM170 431h1v1h-1zM117 431h2v1h-2zM166 431h1v1h-1zM263 431h1v1h-1zM272 431h1v1h-1zM89 431h1v1h-1zM218 431h1v1h-1zM251 431h2v1h-2zM195 431h1v1h-1zM45 431h2v1h-2zM158 431h1v1h-1zM108 424h1v9h-1zM482 424h1v9h-1zM60 424h1v9h-1zM318 424h1v9h-1zM213 424h1v9h-1zM425 429h1v4h-1zM301 429h1v4h-1zM353 429h1v4h-1zM379 430h1v3h-1zM416 431h1v2h-1zM256 431h1v2h-1zM151 431h1v2h-1zM50 431h1v2h-1zM308 431h1v2h-1zM464 431h1v2h-1zM203 431h1v2h-1zM98 431h1v2h-1zM360 431h1v2h-1zM90 432h4v1h-4zM324 432h4v1h-4zM167 432h3v1h-3zM263 432h6v1h-6zM114 432h4v1h-4zM218 432h6v1h-6zM158 432h6v1h-6zM408 432h4v1h-4zM471 432h6v1h-6zM143 432h4v1h-4zM248 432h4v1h-4zM456 432h4v1h-4zM42 432h4v1h-4zM367 432h6v1h-6zM272 432h4v1h-4zM195 432h4v1h-4zM359 433h1v1h-1zM415 433h1v1h-1zM463 433h1v1h-1zM255 433h1v1h-1zM307 433h1v1h-1zM150 433h1v1h-1zM202 433h1v1h-1zM49 433h1v1h-1zM97 433h1v1h-1zM475 479h1v1h-1zM156 479h2v1h-2zM536 479h1v1h-1zM320 479h1v1h-1zM338 479h1v1h-1zM187 479h1v1h-1zM401 479h9v1h-9zM93 479h8v1h-8zM532 479h1v1h-1zM171 479h2v1h-2zM564 479h1v1h-1zM486 479h8v1h-8zM245 479h8v1h-8zM161 479h1v1h-1zM478 479h1v1h-1zM262 479h1v1h-1zM315 479h2v1h-2zM190 479h1v1h-1zM442 479h1v1h-1zM259 479h1v1h-1zM452 479h1v1h-1zM351 479h1v1h-1zM549 479h1v2h-1zM416 479h1v2h-1zM233 479h1v2h-1zM348 479h1v2h-1zM201 479h1v2h-1zM377 479h1v2h-1zM450 479h1v2h-1zM373 479h1v2h-1zM464 479h1v2h-1zM273 479h1v2h-1zM176 479h1v2h-1zM300 479h1v2h-1zM461 479h1v2h-1zM457 479h1v2h-1zM453 480h1v1h-1zM191 480h1v1h-1zM352 480h1v1h-1zM563 480h1v1h-1zM393 480h1v1h-1zM153 480h3v1h-3zM122 480h9v1h-9zM317 480h8v1h-8zM474 480h2v1h-2zM258 480h2v1h-2zM442 480h2v1h-2zM337 480h2v1h-2zM488 480h2v1h-2zM528 480h13v1h-13zM186 480h2v1h-2zM404 480h1v1h-1zM565 480h1v1h-1zM391 480h1v1h-1zM158 480h8v1h-8zM327 480h7v1h-7zM479 480h1v1h-1zM263 480h1v1h-1zM312 480h3v1h-3zM172 480h1v1h-1zM420 480h7v1h-7zM306 479h1v3h-1zM242 479h1v3h-1zM459 479h1v3h-1zM227 479h1v3h-1zM248 480h1v2h-1zM443 481h1v1h-1zM168 481h13v1h-13zM536 481h1v1h-1zM320 481h1v1h-1zM113 481h4v1h-4zM404 481h2v1h-2zM394 481h1v1h-1zM336 481h2v1h-2zM230 481h8v1h-8zM464 481h5v1h-5zM532 481h1v1h-1zM105 481h4v1h-4zM81 481h6v1h-6zM479 481h2v1h-2zM263 481h2v1h-2zM488 481h5v1h-5zM161 481h1v1h-1zM562 481h2v1h-2zM343 481h12v1h-12zM474 481h1v1h-1zM258 481h1v1h-1zM544 481h11v1h-11zM566 481h1v1h-1zM445 481h9v1h-9zM191 481h2v1h-2zM186 481h1v1h-1zM369 481h13v1h-13zM417 481h2v1h-2zM519 479h1v4h-1zM494 480h1v3h-1zM388 480h1v3h-1zM384 480h1v3h-1zM100 480h1v3h-1zM93 480h1v3h-1zM200 481h1v2h-1zM155 481h1v2h-1zM414 481h2v2h-2zM390 481h1v2h-1zM299 481h1v2h-1zM272 481h1v2h-1zM314 481h1v2h-1zM192 482h2v1h-2zM491 482h2v1h-2zM86 482h1v1h-1zM280 482h2v1h-2zM554 482h1v1h-1zM225 482h5v1h-5zM561 482h2v1h-2zM417 482h1v1h-1zM174 482h1v1h-1zM257 482h1v1h-1zM445 482h1v1h-1zM405 482h2v1h-2zM116 482h2v1h-2zM473 482h1v1h-1zM303 482h7v1h-7zM208 482h2v1h-2zM377 482h1v1h-1zM264 482h2v1h-2zM112 482h2v1h-2zM450 482h1v1h-1zM317 482h7v1h-7zM373 482h1v1h-1zM464 482h1v1h-1zM486 482h3v1h-3zM538 482h1v1h-1zM185 482h1v1h-1zM456 482h7v1h-7zM240 482h13v1h-13zM108 482h2v1h-2zM534 482h1v1h-1zM480 482h2v1h-2zM394 482h2v1h-2zM544 482h1v1h-1zM567 482h1v1h-1zM335 482h2v1h-2zM158 482h7v1h-7zM530 482h1v1h-1zM386 479h1v5h-1zM276 479h1v5h-1zM204 479h1v5h-1zM409 480h1v4h-1zM401 480h1v4h-1zM329 481h1v3h-1zM332 481h1v3h-1zM301 482h1v2h-1zM233 482h1v2h-1zM104 482h1v2h-1zM467 482h1v2h-1zM343 482h1v2h-1zM193 483h2v1h-2zM453 483h1v1h-1zM164 483h1v1h-1zM320 483h1v1h-1zM560 483h2v1h-2zM207 483h2v1h-2zM242 483h1v1h-1zM153 483h6v1h-6zM252 483h1v1h-1zM109 483h1v1h-1zM389 483h1v1h-1zM334 483h1v1h-1zM184 483h2v1h-2zM93 483h8v1h-8zM353 483h1v1h-1zM463 483h1v1h-1zM489 483h3v1h-3zM415 483h2v1h-2zM248 483h1v1h-1zM161 483h1v1h-1zM458 483h3v1h-3zM528 483h13v1h-13zM395 483h1v1h-1zM544 483h11v1h-11zM323 483h1v1h-1zM245 483h1v1h-1zM445 483h6v1h-6zM406 483h1v1h-1zM481 483h2v1h-2zM256 483h2v1h-2zM265 483h2v1h-2zM297 483h2v1h-2zM312 483h6v1h-6zM338 483h2v1h-2zM227 483h1v1h-1zM442 483h1v1h-1zM519 483h6v1h-6zM170 483h9v1h-9zM472 483h2v1h-2zM568 483h2v1h-2zM279 483h2v1h-2zM497 479h1v6h-1zM426 481h1v4h-1zM423 481h1v4h-1zM130 481h1v4h-1zM420 481h1v4h-1zM122 481h1v4h-1zM349 482h1v3h-1zM271 483h2v2h-2zM199 483h2v2h-2zM85 483h1v2h-1zM443 484h1v1h-1zM482 484h2v1h-2zM266 484h2v1h-2zM558 484h10v1h-10zM471 484h10v1h-10zM255 484h10v1h-10zM155 484h1v1h-1zM204 484h3v1h-3zM327 484h8v1h-8zM456 484h2v1h-2zM183 484h10v1h-10zM226 484h2v1h-2zM298 484h1v1h-1zM399 484h13v1h-13zM194 484h2v1h-2zM445 484h1v1h-1zM245 484h8v1h-8zM534 484h5v1h-5zM488 484h2v1h-2zM337 484h2v1h-2zM418 484h1v1h-1zM459 484h1v1h-1zM300 484h2v1h-2zM317 484h7v1h-7zM373 484h1v1h-1zM230 484h7v1h-7zM466 484h2v1h-2zM241 484h2v1h-2zM108 484h2v1h-2zM396 484h1v1h-1zM352 484h2v1h-2zM415 484h1v1h-1zM314 484h1v1h-1zM384 484h11v1h-11zM461 484h1v1h-1zM276 484h3v1h-3zM463 484h2v1h-2zM343 484h5v1h-5zM158 484h7v1h-7zM569 484h2v1h-2zM178 484h1v2h-1zM100 484h1v2h-1zM170 484h1v2h-1zM450 484h1v2h-1zM93 484h1v2h-1zM452 484h1v2h-1zM530 484h1v2h-1zM313 485h3v1h-3zM226 485h3v1h-3zM260 485h1v1h-1zM471 485h1v1h-1zM164 485h1v1h-1zM255 485h1v1h-1zM349 485h2v1h-2zM320 485h1v1h-1zM352 485h1v1h-1zM106 485h2v1h-2zM252 485h1v1h-1zM458 485h1v1h-1zM122 485h9v1h-9zM476 485h1v1h-1zM336 485h2v1h-2zM183 485h1v1h-1zM241 485h3v1h-3zM154 485h3v1h-3zM445 485h4v1h-4zM188 485h1v1h-1zM248 485h1v1h-1zM386 485h1v1h-1zM161 485h1v1h-1zM372 485h1v1h-1zM317 485h1v1h-1zM495 485h3v1h-3zM231 485h1v1h-1zM492 485h1v1h-1zM379 485h2v1h-2zM323 485h1v1h-1zM245 485h1v1h-1zM413 485h6v1h-6zM236 485h1v1h-1zM420 485h7v1h-7zM486 485h2v1h-2zM158 485h1v1h-1zM306 483h1v4h-1zM376 484h1v3h-1zM299 485h2v2h-2zM270 485h1v2h-1zM564 485h1v2h-1zM198 485h1v2h-1zM464 485h1v2h-1zM84 485h1v2h-1zM401 485h1v2h-1zM466 485h1v2h-1zM530 486h10v1h-10zM350 486h3v1h-3zM404 486h2v1h-2zM339 486h1v1h-1zM93 486h8v1h-8zM157 486h8v1h-8zM313 486h2v1h-2zM486 486h13v1h-13zM451 486h2v1h-2zM419 486h2v1h-2zM229 486h1v1h-1zM378 486h2v1h-2zM259 486h2v1h-2zM235 486h1v1h-1zM385 486h3v1h-3zM475 486h2v1h-2zM241 486h2v1h-2zM456 486h7v1h-7zM154 486h2v1h-2zM108 486h2v1h-2zM543 486h13v1h-13zM170 486h9v1h-9zM187 486h2v1h-2zM244 486h9v1h-9zM316 486h8v1h-8zM334 486h2v1h-2zM371 486h2v1h-2zM347 485h1v3h-1zM445 486h2v2h-2zM448 486h1v2h-1zM232 486h1v2h-1zM320 487h1v1h-1zM234 487h2v1h-2zM316 487h1v1h-1zM170 487h1v1h-1zM534 487h1v1h-1zM369 487h4v1h-4zM490 487h2v1h-2zM443 487h1v1h-1zM299 487h1v1h-1zM338 487h2v1h-2zM461 487h1v1h-1zM385 487h2v1h-2zM376 487h2v1h-2zM178 487h1v1h-1zM405 487h2v1h-2zM560 487h9v1h-9zM458 487h1v1h-1zM334 487h1v1h-1zM496 487h1v1h-1zM161 487h1v1h-1zM157 487h1v1h-1zM112 483h1v6h-1zM117 483h1v6h-1zM329 485h1v4h-1zM343 485h1v4h-1zM391 485h1v4h-1zM409 485h1v4h-1zM225 486h1v3h-1zM301 487h2v2h-2zM259 487h1v2h-1zM475 487h1v2h-1zM400 487h2v2h-2zM465 487h2v2h-2zM240 487h1v2h-1zM388 487h1v2h-1zM350 487h2v2h-2zM248 487h1v2h-1zM93 487h1v2h-1zM451 487h1v2h-1zM153 487h1v2h-1zM305 487h1v2h-1zM187 487h1v2h-1zM312 487h1v2h-1zM493 487h1v2h-1zM164 488h1v1h-1zM457 488h2v1h-2zM323 488h1v1h-1zM160 488h2v1h-2zM298 488h1v1h-1zM488 488h2v1h-2zM337 488h2v1h-2zM319 488h2v1h-2zM495 488h2v1h-2zM442 488h2v1h-2zM346 488h2v1h-2zM528 488h13v1h-13zM369 488h1v1h-1zM170 488h9v1h-9zM246 488h1v1h-1zM445 488h4v1h-4zM460 488h1v1h-1zM406 488h1v1h-1zM233 488h2v1h-2zM515 482h1v8h-1zM519 484h1v6h-1zM480 485h1v5h-1zM192 485h1v5h-1zM264 485h1v5h-1zM426 486h1v4h-1zM423 486h1v4h-1zM130 486h1v4h-1zM122 486h1v4h-1zM109 487h1v3h-1zM420 487h1v3h-1zM418 487h1v3h-1zM547 487h1v3h-1zM317 488h1v2h-1zM384 488h1v2h-1zM104 488h1v2h-1zM453 488h1v2h-1zM381 488h1v2h-1zM158 488h1v2h-1zM489 489h1v1h-1zM400 489h12v1h-12zM450 489h2v1h-2zM336 489h2v1h-2zM116 489h2v1h-2zM349 489h1v1h-1zM170 489h1v1h-1zM112 489h2v1h-2zM474 489h1v1h-1zM258 489h1v1h-1zM351 489h1v1h-1zM532 489h5v1h-5zM297 489h4v1h-4zM459 489h2v1h-2zM92 489h2v1h-2zM345 489h2v1h-2zM304 489h2v1h-2zM466 489h2v1h-2zM247 489h2v1h-2zM494 489h1v1h-1zM302 489h1v1h-1zM178 489h1v1h-1zM233 489h3v1h-3zM186 489h1v1h-1zM390 489h2v1h-2zM445 489h2v1h-2zM464 489h1v1h-1zM486 489h2v1h-2zM309 483h1v8h-1zM394 485h1v6h-1zM276 485h1v6h-1zM204 485h1v6h-1zM100 487h1v4h-1zM83 487h1v4h-1zM414 487h1v4h-1zM551 487h1v4h-1zM376 488h1v3h-1zM210 488h1v3h-1zM564 488h1v3h-1zM354 488h1v3h-1zM282 488h1v3h-1zM163 489h1v2h-1zM554 489h2v2h-2zM442 489h1v2h-1zM324 489h1v2h-1zM322 489h1v2h-1zM328 489h1v2h-1zM160 489h1v2h-1zM165 489h1v2h-1zM319 489h1v2h-1zM303 490h2v1h-2zM352 490h1v1h-1zM113 490h4v1h-4zM316 490h1v1h-1zM122 490h9v1h-9zM261 490h4v1h-4zM477 490h4v1h-4zM184 490h2v1h-2zM463 490h1v1h-1zM231 490h2v1h-2zM249 490h2v1h-2zM449 490h1v1h-1zM513 490h13v1h-13zM546 490h1v1h-1zM105 490h4v1h-4zM390 490h1v1h-1zM400 490h1v1h-1zM157 490h1v1h-1zM189 490h4v1h-4zM409 490h1v1h-1zM530 490h2v1h-2zM489 490h5v1h-5zM347 490h2v1h-2zM246 490h2v1h-2zM472 490h2v1h-2zM256 490h2v1h-2zM537 490h3v1h-3zM458 490h2v1h-2zM467 490h2v1h-2zM380 490h2v1h-2zM461 490h1v1h-1zM170 490h9v1h-9zM235 490h3v1h-3zM420 490h7v1h-7zM335 490h2v1h-2zM495 490h2v1h-2zM200 485h1v7h-1zM332 485h1v7h-1zM272 485h1v7h-1zM416 486h1v6h-1zM227 486h1v6h-1zM155 487h1v5h-1zM314 487h1v5h-1zM242 487h1v5h-1zM386 488h1v4h-1zM372 488h1v4h-1zM342 489h1v3h-1zM444 490h1v2h-1zM452 490h2v2h-2zM92 490h1v2h-1zM534 490h1v2h-1zM347 491h1v1h-1zM540 491h1v1h-1zM237 491h1v1h-1zM528 491h2v1h-2zM543 491h3v1h-3zM558 491h13v1h-13zM376 491h5v1h-5zM392 491h3v1h-3zM256 491h1v1h-1zM178 491h1v1h-1zM389 491h1v1h-1zM230 491h2v1h-2zM204 491h6v1h-6zM334 491h1v1h-1zM426 491h1v1h-1zM160 491h4v1h-4zM472 491h1v1h-1zM306 491h3v1h-3zM497 491h2v1h-2zM170 491h1v1h-1zM441 491h1v1h-1zM97 491h4v1h-4zM447 491h2v1h-2zM327 491h1v1h-1zM551 491h4v1h-4zM184 491h1v1h-1zM245 491h1v1h-1zM302 491h2v1h-2zM406 491h4v1h-4zM130 491h1v1h-1zM251 491h2v1h-2zM122 491h1v1h-1zM420 491h1v1h-1zM276 491h6v1h-6zM487 491h3v1h-3zM457 491h1v1h-1zM319 491h4v1h-4zM353 491h2v1h-2zM376 495h1v2h-1zM305 496h4v1h-4zM388 496h1v1h-1zM233 496h4v1h-4zM514 496h11v1h-11zM449 496h4v1h-4zM370 496h3v1h-3zM101 496h1v1h-1zM422 496h4v1h-4zM535 496h6v1h-6zM161 496h4v1h-4zM391 496h1v1h-1zM551 496h4v1h-4zM528 496h6v1h-6zM87 496h6v1h-6zM154 496h1v2h-1zM402 496h1v2h-1zM302 496h1v2h-1zM298 496h1v2h-1zM230 496h1v2h-1zM446 496h1v2h-1zM226 496h1v2h-1zM419 496h1v2h-1zM548 496h1v2h-1zM415 496h1v2h-1zM442 496h1v2h-1zM544 496h1v2h-1zM158 496h1v2h-1zM540 497h1v1h-1zM535 497h1v1h-1zM387 497h2v1h-2zM528 497h1v1h-1zM533 497h1v1h-1zM81 497h5v1h-5zM375 497h2v1h-2zM392 497h1v1h-1zM100 497h2v1h-2zM87 497h1v2h-1zM514 497h1v2h-1zM524 497h1v2h-1zM92 497h1v2h-1zM297 498h7v1h-7zM96 498h13v1h-13zM535 498h6v1h-6zM392 498h2v1h-2zM375 498h6v1h-6zM225 498h7v1h-7zM441 498h7v1h-7zM387 498h1v1h-1zM414 498h7v1h-7zM543 498h7v1h-7zM528 498h6v1h-6zM153 498h7v1h-7zM370 497h1v3h-1zM425 497h1v3h-1zM164 497h1v3h-1zM233 497h1v3h-1zM554 497h1v3h-1zM449 497h1v3h-1zM422 497h1v3h-1zM161 497h1v3h-1zM372 497h1v3h-1zM308 497h1v3h-1zM551 497h1v3h-1zM452 497h1v3h-1zM236 497h1v3h-1zM305 497h1v3h-1zM401 498h1v2h-1zM154 499h1v1h-1zM540 499h1v1h-1zM535 499h1v1h-1zM302 499h1v1h-1zM514 499h11v1h-11zM409 499h2v1h-2zM298 499h1v1h-1zM528 499h1v1h-1zM386 499h1v1h-1zM533 499h1v1h-1zM374 499h2v1h-2zM446 499h1v1h-1zM230 499h1v1h-1zM226 499h1v1h-1zM419 499h1v1h-1zM548 499h1v1h-1zM99 499h2v1h-2zM415 499h1v1h-1zM393 499h2v1h-2zM87 499h6v1h-6zM442 499h1v1h-1zM544 499h1v1h-1zM158 499h1v1h-1zM405 496h1v5h-1zM83 498h1v3h-1zM305 500h4v1h-4zM298 500h5v1h-5zM99 500h1v1h-1zM233 500h4v1h-4zM449 500h4v1h-4zM370 500h3v1h-3zM518 500h1v1h-1zM226 500h5v1h-5zM422 500h4v1h-4zM535 500h6v1h-6zM415 500h5v1h-5zM87 500h1v1h-1zM514 500h1v1h-1zM442 500h5v1h-5zM161 500h4v1h-4zM92 500h1v1h-1zM551 500h4v1h-4zM544 500h5v1h-5zM374 500h5v1h-5zM154 500h5v1h-5zM528 500h6v1h-6zM394 500h2v1h-2zM385 500h2v1h-2zM521 500h1v1h-1zM408 500h2v1h-2zM104 500h1v2h-1zM400 500h2v2h-2zM154 501h1v1h-1zM405 501h3v1h-3zM302 501h1v1h-1zM384 501h10v1h-10zM395 501h2v1h-2zM514 501h11v1h-11zM298 501h1v1h-1zM446 501h1v1h-1zM230 501h1v1h-1zM226 501h1v1h-1zM419 501h1v1h-1zM81 501h5v1h-5zM548 501h1v1h-1zM98 501h1v1h-1zM415 501h1v1h-1zM87 501h6v1h-6zM442 501h1v1h-1zM372 501h3v1h-3zM544 501h1v1h-1zM158 501h1v1h-1zM370 501h1v2h-1zM425 501h1v2h-1zM164 501h1v2h-1zM233 501h1v2h-1zM554 501h1v2h-1zM449 501h1v2h-1zM422 501h1v2h-1zM161 501h1v2h-1zM551 501h1v2h-1zM308 501h1v2h-1zM378 501h1v2h-1zM452 501h1v2h-1zM236 501h1v2h-1zM305 501h1v2h-1zM298 502h5v1h-5zM384 502h1v1h-1zM97 502h2v1h-2zM531 502h7v1h-7zM389 502h1v1h-1zM518 502h1v1h-1zM226 502h5v1h-5zM101 502h7v1h-7zM415 502h5v1h-5zM87 502h1v1h-1zM514 502h1v1h-1zM442 502h5v1h-5zM372 502h1v1h-1zM92 502h1v1h-1zM544 502h5v1h-5zM154 502h5v1h-5zM521 502h1v1h-1zM399 502h1v2h-1zM154 503h1v1h-1zM305 503h4v1h-4zM535 503h1v1h-1zM302 503h1v1h-1zM375 503h4v1h-4zM233 503h4v1h-4zM449 503h4v1h-4zM96 503h1v1h-1zM370 503h3v1h-3zM298 503h1v1h-1zM422 503h4v1h-4zM161 503h4v1h-4zM533 503h1v1h-1zM446 503h1v1h-1zM230 503h1v1h-1zM551 503h4v1h-4zM226 503h1v1h-1zM419 503h1v1h-1zM388 503h2v1h-2zM548 503h1v1h-1zM415 503h1v1h-1zM87 503h6v1h-6zM442 503h1v1h-1zM514 503h12v1h-12zM544 503h1v1h-1zM158 503h1v1h-1zM380 499h1v6h-1zM83 502h1v3h-1zM297 504h7v1h-7zM523 504h1v1h-1zM530 504h9v1h-9zM225 504h7v1h-7zM441 504h7v1h-7zM520 504h1v1h-1zM414 504h7v1h-7zM543 504h7v1h-7zM153 504h7v1h-7zM388 504h1v2h-1zM514 504h1v2h-1zM378 505h3v1h-3zM521 505h3v1h-3zM533 505h1v1h-1zM83 505h3v1h-3zM393 502h1v5h-1zM104 503h1v4h-1zM370 504h1v3h-1zM517 504h1v3h-1zM233 504h1v3h-1zM449 504h1v3h-1zM422 504h1v3h-1zM161 504h1v3h-1zM551 504h1v3h-1zM88 504h1v3h-1zM305 504h1v3h-1zM532 506h2v1h-2zM302 506h1v1h-1zM226 506h2v1h-2zM415 506h2v1h-2zM442 506h2v1h-2zM446 506h1v1h-1zM230 506h1v1h-1zM544 506h2v1h-2zM521 506h2v1h-2zM419 506h1v1h-1zM548 506h1v1h-1zM154 506h2v1h-2zM81 506h2v1h-2zM387 506h1v1h-1zM158 506h1v1h-1zM513 506h2v1h-2zM298 506h2v1h-2zM540 501h1v7h-1zM405 502h1v6h-1zM90 504h1v4h-1zM425 504h1v4h-1zM164 504h1v4h-1zM375 504h1v4h-1zM554 504h1v4h-1zM372 504h1v4h-1zM308 504h1v4h-1zM452 504h1v4h-1zM236 504h1v4h-1zM535 505h1v3h-1zM411 505h1v3h-1zM381 506h1v2h-1zM93 506h1v2h-1zM154 507h1v1h-1zM419 507h3v1h-3zM548 507h3v1h-3zM523 507h2v1h-2zM517 507h4v1h-4zM158 507h3v1h-3zM298 507h1v1h-1zM390 507h4v1h-4zM302 507h3v1h-3zM369 507h2v1h-2zM100 507h9v1h-9zM226 507h1v1h-1zM415 507h1v1h-1zM86 507h2v1h-2zM531 507h2v1h-2zM442 507h1v1h-1zM544 507h1v1h-1zM446 507h3v1h-3zM230 507h3v1h-3zM385 507h2v1h-2zM528 501h1v8h-1zM401 502h1v7h-1zM98 503h1v6h-1zM513 507h1v2h-1zM90 508h4v1h-4zM162 508h3v1h-3zM405 508h6v1h-6zM303 508h2v1h-2zM86 508h1v1h-1zM375 508h7v1h-7zM297 508h1v1h-1zM515 508h2v1h-2zM231 508h2v1h-2zM385 508h1v1h-1zM306 508h3v1h-3zM441 508h1v1h-1zM225 508h1v1h-1zM537 508h4v1h-4zM420 508h2v1h-2zM447 508h2v1h-2zM549 508h2v1h-2zM414 508h1v1h-1zM543 508h1v1h-1zM159 508h2v1h-2zM234 508h3v1h-3zM369 508h1v1h-1zM153 508h1v1h-1zM450 508h3v1h-3zM525 508h1v1h-1zM423 508h3v1h-3zM552 508h3v1h-3zM371 508h2v1h-2zM26 515h1v2h-1zM321 516h8v1h-8zM536 516h8v1h-8zM393 516h8v1h-8zM465 516h8v1h-8zM249 516h8v1h-8zM177 516h8v1h-8zM350 517h9v1h-9zM278 517h9v1h-9zM26 517h9v1h-9zM494 517h9v1h-9zM206 517h9v1h-9zM422 517h9v1h-9zM9 517h12v1h-12zM565 517h9v1h-9zM268 518h6v1h-6zM309 518h6v1h-6zM134 518h6v1h-6zM485 518h4v1h-4zM261 518h4v1h-4zM477 518h4v1h-4zM238 518h4v1h-4zM335 518h1v1h-1zM413 518h4v1h-4zM453 518h6v1h-6zM196 518h6v1h-6zM189 518h4v1h-4zM166 518h4v1h-4zM556 518h4v1h-4zM548 518h4v1h-4zM341 518h4v1h-4zM381 518h6v1h-6zM405 518h4v1h-4zM126 518h1v1h-1zM524 518h6v1h-6zM117 518h1v1h-1zM25 518h1v1h-1zM536 517h1v3h-1zM256 517h1v3h-1zM393 517h1v3h-1zM472 517h1v3h-1zM321 517h1v3h-1zM400 517h1v3h-1zM184 517h1v3h-1zM249 517h1v3h-1zM465 517h1v3h-1zM543 517h1v3h-1zM328 517h1v3h-1zM177 517h1v3h-1zM192 519h2v1h-2zM18 519h2v1h-2zM188 519h2v1h-2zM404 519h2v1h-2zM458 519h1v1h-1zM242 519h1v1h-1zM340 519h2v1h-2zM238 519h1v1h-1zM551 519h2v1h-2zM24 519h2v1h-2zM547 519h2v1h-2zM116 519h2v1h-2zM125 519h2v1h-2zM560 519h1v1h-1zM488 519h2v1h-2zM386 519h1v1h-1zM170 519h1v1h-1zM264 519h2v1h-2zM10 519h1v1h-1zM166 519h1v1h-1zM529 519h1v1h-1zM556 519h1v1h-1zM260 519h2v1h-2zM416 519h2v1h-2zM480 519h2v1h-2zM408 519h2v1h-2zM273 519h1v1h-1zM314 519h1v1h-1zM412 519h2v1h-2zM476 519h2v1h-2zM334 519h2v1h-2zM344 519h2v1h-2zM30 518h1v3h-1zM484 519h1v2h-1zM489 520h1v1h-1zM321 520h8v1h-8zM260 520h1v1h-1zM333 520h1v1h-1zM476 520h1v1h-1zM18 520h1v1h-1zM465 520h8v1h-8zM249 520h8v1h-8zM188 520h1v1h-1zM115 520h1v1h-1zM404 520h1v1h-1zM24 520h1v1h-1zM547 520h1v1h-1zM177 520h8v1h-8zM536 520h8v1h-8zM393 520h8v1h-8zM494 518h1v4h-1zM573 518h1v4h-1zM430 518h1v4h-1zM206 518h1v4h-1zM358 518h1v4h-1zM422 518h1v4h-1zM565 518h1v4h-1zM286 518h1v4h-1zM350 518h1v4h-1zM502 518h1v4h-1zM214 518h1v4h-1zM278 518h1v4h-1zM196 519h1v3h-1zM134 519h1v3h-1zM481 520h1v2h-1zM265 520h1v2h-1zM385 520h1v2h-1zM193 520h1v2h-1zM124 520h1v2h-1zM528 520h1v2h-1zM313 520h1v2h-1zM552 520h1v2h-1zM409 520h1v2h-1zM272 520h1v2h-1zM11 520h1v2h-1zM457 520h1v2h-1zM26 521h9v1h-9zM488 521h2v1h-2zM17 521h2v1h-2zM14 518h1v5h-1zM237 520h1v3h-1zM555 520h1v3h-1zM165 520h1v3h-1zM536 521h1v2h-1zM256 521h1v2h-1zM393 521h1v2h-1zM472 521h1v2h-1zM321 521h1v2h-1zM400 521h1v2h-1zM184 521h1v2h-1zM465 521h1v2h-1zM249 521h1v2h-1zM543 521h1v2h-1zM328 521h1v2h-1zM177 521h1v2h-1zM557 522h3v1h-3zM350 522h9v1h-9zM480 522h1v1h-1zM167 522h3v1h-3zM123 522h1v1h-1zM192 522h1v1h-1zM408 522h1v1h-1zM278 522h9v1h-9zM134 522h5v1h-5zM494 522h9v1h-9zM551 522h1v1h-1zM565 522h9v1h-9zM206 522h9v1h-9zM239 522h3v1h-3zM422 522h9v1h-9zM264 522h1v1h-1zM486 522h2v1h-2zM196 522h5v1h-5zM26 522h1v2h-1zM384 522h1v2h-1zM527 522h1v2h-1zM271 522h1v2h-1zM312 522h1v2h-1zM456 522h1v2h-1zM30 522h1v2h-1zM555 523h2v1h-2zM321 523h8v1h-8zM165 523h2v1h-2zM196 523h1v1h-1zM8 523h13v1h-13zM138 523h2v1h-2zM465 523h8v1h-8zM249 523h8v1h-8zM479 523h2v1h-2zM263 523h2v1h-2zM488 523h2v1h-2zM200 523h2v1h-2zM177 523h8v1h-8zM237 523h2v1h-2zM134 523h1v1h-1zM191 523h2v1h-2zM407 523h2v1h-2zM536 523h8v1h-8zM393 523h8v1h-8zM550 523h2v1h-2zM126 520h1v5h-1zM122 523h1v2h-1zM549 524h1v1h-1zM23 524h13v1h-13zM478 524h1v1h-1zM262 524h1v1h-1zM406 524h1v1h-1zM190 524h1v1h-1zM412 520h1v6h-1zM417 520h1v6h-1zM340 520h1v6h-1zM345 520h1v6h-1zM237 524h1v2h-1zM536 524h1v2h-1zM393 524h1v2h-1zM201 524h1v2h-1zM321 524h1v2h-1zM555 524h1v2h-1zM165 524h1v2h-1zM465 524h1v2h-1zM139 524h1v2h-1zM249 524h1v2h-1zM177 524h1v2h-1zM477 525h1v1h-1zM261 525h1v1h-1zM121 525h8v1h-8zM189 525h1v1h-1zM548 525h1v1h-1zM405 525h1v1h-1zM494 523h1v4h-1zM242 523h1v4h-1zM573 523h1v4h-1zM430 523h1v4h-1zM206 523h1v4h-1zM358 523h1v4h-1zM422 523h1v4h-1zM560 523h1v4h-1zM170 523h1v4h-1zM565 523h1v4h-1zM502 523h1v4h-1zM286 523h1v4h-1zM350 523h1v4h-1zM214 523h1v4h-1zM278 523h1v4h-1zM489 524h1v3h-1zM484 525h1v2h-1zM555 526h2v1h-2zM260 526h1v1h-1zM165 526h2v1h-2zM248 526h2v1h-2zM476 526h1v1h-1zM196 526h1v1h-1zM138 526h2v1h-2zM340 526h2v1h-2zM464 526h2v1h-2zM188 526h1v1h-1zM392 526h2v1h-2zM176 526h2v1h-2zM404 526h1v1h-1zM200 526h2v1h-2zM547 526h1v1h-1zM237 526h2v1h-2zM134 526h1v1h-1zM416 526h2v1h-2zM535 526h2v1h-2zM320 526h2v1h-2zM412 526h2v1h-2zM344 526h2v1h-2zM335 520h1v8h-1zM117 520h1v8h-1zM526 524h1v4h-1zM311 524h1v4h-1zM256 524h1v4h-1zM270 524h1v4h-1zM472 524h1v4h-1zM400 524h1v4h-1zM455 524h1v4h-1zM184 524h1v4h-1zM543 524h1v4h-1zM328 524h1v4h-1zM383 524h1v4h-1zM130 526h2v2h-2zM126 526h1v2h-1zM547 527h6v1h-6zM350 527h9v1h-9zM485 527h4v1h-4zM197 527h4v1h-4zM238 527h4v1h-4zM278 527h9v1h-9zM260 527h6v1h-6zM413 527h4v1h-4zM494 527h9v1h-9zM476 527h6v1h-6zM565 527h9v1h-9zM166 527h4v1h-4zM206 527h9v1h-9zM556 527h4v1h-4zM341 527h4v1h-4zM188 527h6v1h-6zM422 527h9v1h-9zM135 527h4v1h-4zM404 527h6v1h-6zM14 524h1v5h-1zM30 525h1v4h-1zM535 527h1v2h-1zM320 527h1v2h-1zM248 527h1v2h-1zM464 527h1v2h-1zM176 527h1v2h-1zM392 527h1v2h-1zM540 528h4v1h-4zM494 528h1v1h-1zM397 528h4v1h-4zM573 528h1v1h-1zM430 528h1v1h-1zM325 528h4v1h-4zM206 528h1v1h-1zM358 528h1v1h-1zM422 528h1v1h-1zM565 528h1v1h-1zM253 528h4v1h-4zM469 528h4v1h-4zM502 528h1v1h-1zM286 528h1v1h-1zM181 528h4v1h-4zM350 528h1v1h-1zM214 528h1v1h-1zM278 528h1v1h-1zM43 533h1v2h-1zM536 534h8v1h-8zM329 534h8v1h-8zM393 534h8v1h-8zM249 534h8v1h-8zM465 534h8v1h-8zM177 534h8v1h-8zM350 535h9v1h-9zM43 535h9v1h-9zM278 535h9v1h-9zM494 535h9v1h-9zM206 535h9v1h-9zM422 535h9v1h-9zM565 535h9v1h-9zM25 536h4v1h-4zM268 536h6v1h-6zM407 536h1v1h-1zM17 536h4v1h-4zM317 536h6v1h-6zM122 536h6v1h-6zM485 536h4v1h-4zM36 536h1v1h-1zM197 536h4v1h-4zM261 536h4v1h-4zM238 536h4v1h-4zM413 536h4v1h-4zM453 536h6v1h-6zM9 536h4v1h-4zM189 536h4v1h-4zM166 536h4v1h-4zM42 536h1v1h-1zM556 536h4v1h-4zM548 536h4v1h-4zM341 536h4v1h-4zM381 536h6v1h-6zM479 536h1v1h-1zM135 536h4v1h-4zM524 536h6v1h-6zM117 536h1v1h-1zM536 535h1v3h-1zM256 535h1v3h-1zM329 535h1v3h-1zM393 535h1v3h-1zM472 535h1v3h-1zM400 535h1v3h-1zM336 535h1v3h-1zM184 535h1v3h-1zM249 535h1v3h-1zM465 535h1v3h-1zM543 535h1v3h-1zM177 535h1v3h-1zM192 537h2v1h-2zM41 537h2v1h-2zM188 537h2v1h-2zM458 537h1v1h-1zM242 537h1v1h-1zM28 537h2v1h-2zM138 537h2v1h-2zM238 537h1v1h-1zM478 537h2v1h-2zM551 537h2v1h-2zM417 537h1v1h-1zM24 537h2v1h-2zM547 537h2v1h-2zM116 537h2v1h-2zM134 537h2v1h-2zM406 537h2v1h-2zM20 537h2v1h-2zM413 537h1v1h-1zM488 537h2v1h-2zM386 537h1v1h-1zM170 537h1v1h-1zM264 537h2v1h-2zM484 537h2v1h-2zM166 537h1v1h-1zM529 537h1v1h-1zM200 537h2v1h-2zM16 537h2v1h-2zM322 537h1v1h-1zM35 537h2v1h-2zM345 537h1v1h-1zM12 537h2v1h-2zM260 537h2v1h-2zM341 537h1v1h-1zM8 537h2v1h-2zM559 537h2v1h-2zM47 536h1v3h-1zM196 537h1v2h-1zM555 537h1v2h-1zM260 538h1v1h-1zM8 538h1v1h-1zM477 538h1v1h-1zM201 538h1v1h-1zM41 538h1v1h-1zM465 538h8v1h-8zM249 538h8v1h-8zM188 538h1v1h-1zM560 538h1v1h-1zM115 538h1v1h-1zM547 538h1v1h-1zM177 538h8v1h-8zM405 538h1v1h-1zM536 538h8v1h-8zM329 538h8v1h-8zM393 538h8v1h-8zM494 536h1v4h-1zM573 536h1v4h-1zM430 536h1v4h-1zM206 536h1v4h-1zM358 536h1v4h-1zM422 536h1v4h-1zM565 536h1v4h-1zM502 536h1v4h-1zM286 536h1v4h-1zM350 536h1v4h-1zM214 536h1v4h-1zM278 536h1v4h-1zM268 537h1v3h-1zM122 537h1v3h-1zM489 538h1v2h-1zM265 538h1v2h-1zM13 538h1v2h-1zM385 538h1v2h-1zM193 538h1v2h-1zM321 538h1v2h-1zM528 538h1v2h-1zM552 538h1v2h-1zM34 538h1v2h-1zM484 538h1v2h-1zM457 538h1v2h-1zM43 539h9v1h-9zM200 539h2v1h-2zM559 539h2v1h-2zM237 538h1v3h-1zM412 538h1v3h-1zM165 538h1v3h-1zM340 538h1v3h-1zM536 539h1v2h-1zM256 539h1v2h-1zM329 539h1v2h-1zM393 539h1v2h-1zM472 539h1v2h-1zM400 539h1v2h-1zM184 539h1v2h-1zM336 539h1v2h-1zM465 539h1v2h-1zM249 539h1v2h-1zM543 539h1v2h-1zM177 539h1v2h-1zM12 540h1v1h-1zM350 540h9v1h-9zM414 540h3v1h-3zM167 540h3v1h-3zM342 540h3v1h-3zM198 540h2v1h-2zM192 540h1v1h-1zM278 540h9v1h-9zM557 540h2v1h-2zM268 540h5v1h-5zM494 540h9v1h-9zM488 540h2v1h-2zM484 540h2v1h-2zM551 540h1v1h-1zM122 540h5v1h-5zM565 540h9v1h-9zM206 540h9v1h-9zM33 540h1v1h-1zM239 540h3v1h-3zM422 540h9v1h-9zM264 540h1v1h-1zM320 540h1v2h-1zM384 540h1v2h-1zM527 540h1v2h-1zM456 540h1v2h-1zM47 540h1v2h-1zM43 540h1v2h-1zM165 541h2v1h-2zM340 541h2v1h-2zM465 541h8v1h-8zM249 541h8v1h-8zM126 541h2v1h-2zM263 541h2v1h-2zM272 541h2v1h-2zM11 541h2v1h-2zM485 541h3v1h-3zM200 541h2v1h-2zM177 541h8v1h-8zM268 541h1v1h-1zM237 541h2v1h-2zM191 541h2v1h-2zM536 541h8v1h-8zM329 541h8v1h-8zM393 541h8v1h-8zM412 541h2v1h-2zM122 541h1v1h-1zM550 541h2v1h-2zM559 541h2v1h-2zM36 538h1v5h-1zM32 541h1v2h-1zM549 542h1v1h-1zM40 542h13v1h-13zM10 542h1v1h-1zM262 542h1v1h-1zM190 542h1v1h-1zM21 538h1v6h-1zM24 538h1v6h-1zM139 538h1v6h-1zM29 538h1v6h-1zM134 538h1v6h-1zM16 538h1v6h-1zM489 541h1v3h-1zM237 542h1v2h-1zM536 542h1v2h-1zM127 542h1v2h-1zM329 542h1v2h-1zM393 542h1v2h-1zM412 542h1v2h-1zM165 542h1v2h-1zM340 542h1v2h-1zM465 542h1v2h-1zM249 542h1v2h-1zM273 542h1v2h-1zM177 542h1v2h-1zM261 543h1v1h-1zM9 543h1v1h-1zM189 543h1v1h-1zM548 543h1v1h-1zM31 543h8v1h-8zM494 541h1v4h-1zM242 541h1v4h-1zM430 541h1v4h-1zM573 541h1v4h-1zM206 541h1v4h-1zM417 541h1v4h-1zM358 541h1v4h-1zM422 541h1v4h-1zM170 541h1v4h-1zM565 541h1v4h-1zM345 541h1v4h-1zM502 541h1v4h-1zM286 541h1v4h-1zM350 541h1v4h-1zM214 541h1v4h-1zM278 541h1v4h-1zM201 542h1v3h-1zM560 542h1v3h-1zM196 543h1v2h-1zM555 543h1v2h-1zM260 544h1v1h-1zM165 544h2v1h-2zM8 544h1v1h-1zM248 544h2v1h-2zM138 544h2v1h-2zM28 544h2v1h-2zM340 544h2v1h-2zM464 544h2v1h-2zM24 544h2v1h-2zM134 544h2v1h-2zM188 544h1v1h-1zM126 544h2v1h-2zM20 544h2v1h-2zM328 544h2v1h-2zM176 544h2v1h-2zM392 544h2v1h-2zM272 544h2v1h-2zM16 544h2v1h-2zM547 544h1v1h-1zM268 544h1v1h-1zM237 544h2v1h-2zM535 544h2v1h-2zM488 544h1v1h-1zM412 544h2v1h-2zM484 544h1v1h-1zM122 544h1v1h-1zM407 538h1v8h-1zM479 538h1v8h-1zM117 538h1v8h-1zM526 542h1v4h-1zM256 542h1v4h-1zM383 542h1v4h-1zM472 542h1v4h-1zM400 542h1v4h-1zM455 542h1v4h-1zM336 542h1v4h-1zM184 542h1v4h-1zM543 542h1v4h-1zM319 542h1v4h-1zM36 544h1v2h-1zM130 544h2v2h-2zM25 545h4v1h-4zM547 545h6v1h-6zM269 545h4v1h-4zM350 545h9v1h-9zM17 545h4v1h-4zM485 545h4v1h-4zM123 545h4v1h-4zM197 545h4v1h-4zM238 545h4v1h-4zM278 545h9v1h-9zM260 545h6v1h-6zM413 545h4v1h-4zM494 545h9v1h-9zM8 545h6v1h-6zM565 545h9v1h-9zM166 545h4v1h-4zM206 545h9v1h-9zM556 545h4v1h-4zM341 545h4v1h-4zM188 545h6v1h-6zM422 545h9v1h-9zM135 545h4v1h-4zM47 543h1v4h-1zM535 545h1v2h-1zM248 545h1v2h-1zM464 545h1v2h-1zM328 545h1v2h-1zM176 545h1v2h-1zM392 545h1v2h-1zM540 546h4v1h-4zM494 546h1v1h-1zM333 546h4v1h-4zM397 546h4v1h-4zM573 546h1v1h-1zM430 546h1v1h-1zM206 546h1v1h-1zM358 546h1v1h-1zM422 546h1v1h-1zM565 546h1v1h-1zM253 546h4v1h-4zM469 546h4v1h-4zM502 546h1v1h-1zM286 546h1v1h-1zM181 546h4v1h-4zM350 546h1v1h-1zM214 546h1v1h-1zM278 546h1v1h-1z"/>
</svg>
</body></html>
